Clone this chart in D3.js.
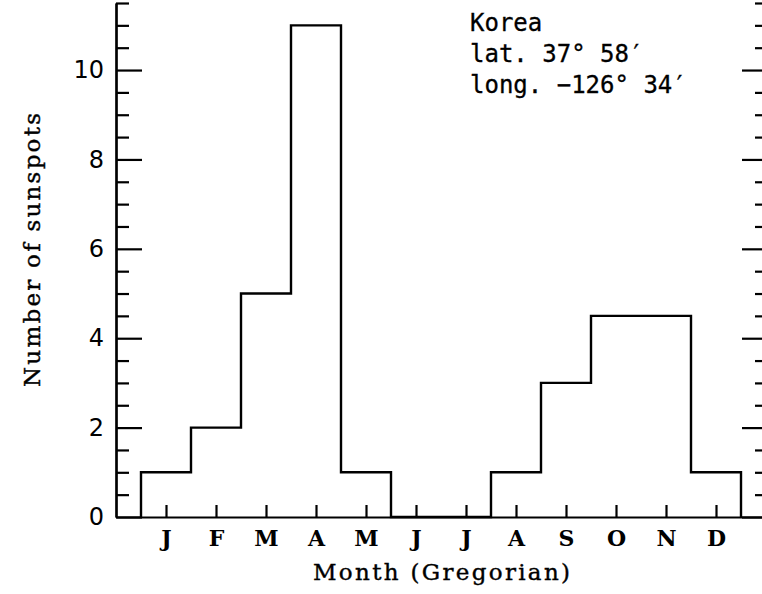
<!DOCTYPE html>
<html lang="en">
<head>
    <meta charset="UTF-8">
    <title>Sunspots by month - Korea</title>
    <script src="https://cdn.jsdelivr.net/npm/d3@7/dist/d3.min.js"></script>
    <style>
        body{ margin:0; background:#fff; }
        path.hist{ fill:none; stroke:#000; stroke-width:2.4px; }
        .axis path, .axis line{ stroke:#000; stroke-width:2.2px; }
        .yaxis text{ font-family:"DejaVu Sans", sans-serif; font-size:24px; fill:#000; }
        .xaxis text{ font-family:"DejaVu Serif", serif; font-weight:bold; font-size:22px; fill:#000; }
        .label{ font-family:"DejaVu Serif", serif; font-size:23px; fill:#000; stroke:#000; stroke-width:0.4px; }
        .note{ font-family:"DejaVu Sans Mono", monospace; font-size:24px; fill:#000; stroke:#000; stroke-width:0.3px; }
    </style>
</head>
<body>
<svg id="main" width="762" height="594"></svg>
<script>
    // month labels and counts (J..D)
    let months = ['J','F','M','A','M','J','J','A','S','O','N','D'];
    let counts = [1, 2, 5, 11, 1, 0, 0, 1, 3, 4.5, 4.5, 1];
    let yMajor = [0, 2, 4, 6, 8, 10];
    let noteLines = ['Korea', 'lat. 37\u00b0 58\u2032', 'long. \u2212126\u00b0 34\u2032'];

    let svg = d3.select('svg#main');

    // scales: month index 1..12 sits on the ticks, frame from 0 to 13
    let xScale = d3.scaleLinear().domain([0, 13]).range([116, 766]);
    let yScale = d3.scaleLinear().domain([0, 11.5]).range([517, 3]);

    // minor ticks every half unit
    let yMinor = d3.range(0, 11.51, 0.5).filter(function(d){ return yMajor.indexOf(d) < 0; });

    // left axis: major with labels, minor without
    svg.append('g').attr('class', 'axis yaxis')
        .attr('transform', 'translate(' + xScale(0) + ',0)')
        .call(d3.axisLeft(yScale).tickValues(yMajor).tickFormat(d3.format('d'))
            .tickSizeInner(-26).tickSizeOuter(0).tickPadding(12));
    svg.append('g').attr('class', 'axis')
        .attr('transform', 'translate(' + xScale(0) + ',0)')
        .call(d3.axisLeft(yScale).tickValues(yMinor).tickFormat('')
            .tickSizeInner(-13).tickSizeOuter(0));

    // right axis: ticks only
    svg.append('g').attr('class', 'axis')
        .attr('transform', 'translate(' + xScale(13) + ',0)')
        .call(d3.axisRight(yScale).tickValues(yMajor).tickFormat('')
            .tickSizeInner(-24).tickSizeOuter(0));
    svg.append('g').attr('class', 'axis')
        .attr('transform', 'translate(' + xScale(13) + ',0)')
        .call(d3.axisRight(yScale).tickValues(yMinor).tickFormat('')
            .tickSizeInner(-11).tickSizeOuter(0));

    // bottom axis with month letters
    svg.append('g').attr('class', 'axis xaxis')
        .attr('transform', 'translate(0,' + yScale(0) + ')')
        .call(d3.axisBottom(xScale).tickValues(d3.range(1, 13))
            .tickFormat(function(d){ return months[d - 1]; })
            .tickSizeInner(-12).tickSizeOuter(0).tickPadding(13));

    // histogram outline as a step line
    let pts = [[0.5, 0]];
    counts.forEach(function(c, i){ pts.push([i + 0.5, c]); });
    pts.push([12.5, counts[11]]);
    pts.push([12.5, 0]);
    let step = d3.line()
        .x(function(d){ return xScale(d[0]); })
        .y(function(d){ return yScale(d[1]); })
        .curve(d3.curveStepAfter);
    svg.append('path').attr('class', 'hist').attr('d', step(pts));

    // axis titles
    svg.append('text').attr('class', 'label')
        .attr('x', 313).attr('y', 580)
        .attr('textLength', 257).attr('lengthAdjust', 'spacing')
        .text('Month (Gregorian)');
    svg.append('text').attr('class', 'label')
        .attr('transform', 'translate(40,387) rotate(-90)')
        .attr('textLength', 274).attr('lengthAdjust', 'spacing')
        .text('Number of sunspots');

    // location note
    svg.selectAll('text.note').data(noteLines).enter()
        .append('text').attr('class', 'note')
        .attr('x', 470)
        .attr('y', function(d, i){ return 31 + i * 31; })
        .text(function(d){ return d; });
</script>
</body>
</html>
